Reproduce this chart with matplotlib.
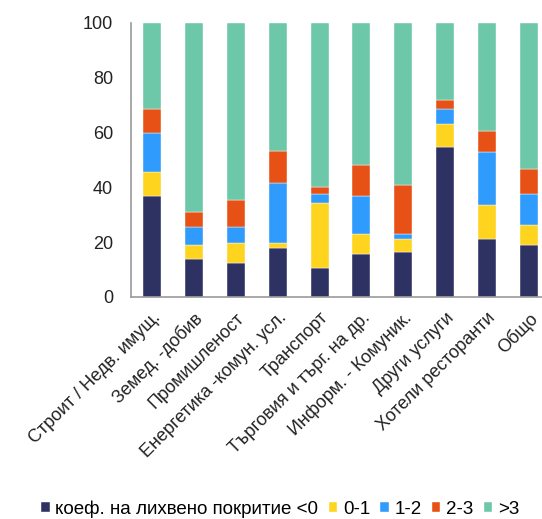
import matplotlib.pyplot as plt
import numpy as np

plt.rcParams['font.family'] = ['Liberation Sans', 'DejaVu Sans']

# sectors on the x axis
sectors = ['Строит / Недв. имущ.', 'Земед. -добив', 'Промишленост',
           'Енергетика -комун. усл.', 'Транспорт', 'Търговия и търг. на др.',
           'Информ. - Комуник.', 'Други услуги', 'Хотели ресторанти', 'Общо']

# share of firms (%) by interest coverage ratio band
lt0 = [36.7, 13.8, 12.5, 17.8, 10.5, 15.8, 16.4, 54.6, 21.1, 19.1]
b01 = [8.7, 5.3, 7.2, 1.9, 23.8, 7.3, 4.7, 8.5, 12.5, 7.3]
b12 = [14.5, 6.4, 5.8, 21.7, 3.4, 13.8, 1.9, 5.4, 19.1, 11.2]
b23 = [8.6, 5.4, 10.0, 11.9, 2.4, 11.2, 17.8, 3.3, 7.9, 9.1]
gt3 = [31.5, 69.1, 64.5, 46.7, 59.9, 51.9, 59.2, 28.2, 39.4, 53.3]

series = [lt0, b01, b12, b23, gt3]
names = ['коеф. на лихвено покритие <0', '0-1', '1-2', '2-3', '>3']
colors = ['#2e3262', '#ffd41f', '#2f9bfd', '#e75115', '#6cc8a9']

fig = plt.figure(figsize=(5.42, 5.19), dpi=100)
ax = fig.add_axes([131/542, 0.428, 419/542, 0.528])

x = np.arange(len(sectors))
bottom = np.zeros(len(sectors))
for vals, name, c in zip(series, names, colors):
    ax.bar(x, vals, 0.43, bottom=bottom, color=c, label=name,
           edgecolor='white', linewidth=0.3)
    bottom += np.array(vals)

ax.set_xlim(-0.5, len(sectors) - 0.5)
ax.set_ylim(0, 100)
ax.set_yticks(range(0, 101, 20))
ax.set_xticks(x)
ax.set_xticklabels(sectors, rotation=45, ha='right', rotation_mode='anchor')
ax.tick_params(axis='both', length=0, labelsize=13, colors='#222222')
ax.tick_params(axis='y', pad=13)
ax.tick_params(axis='x', pad=9)

for s in ['top', 'right']:
    ax.spines[s].set_visible(False)
for s in ['left', 'bottom']:
    ax.spines[s].set_color('#999999')
    ax.spines[s].set_linewidth(1.2)

fig.legend(loc='lower center', bbox_to_anchor=(0.517, -0.03), ncol=5,
           frameon=False, fontsize=13.5, handlelength=0.45, handleheight=0.45,
           handletextpad=0.3, columnspacing=0.55)

fig.savefig('out.png', dpi=100)
